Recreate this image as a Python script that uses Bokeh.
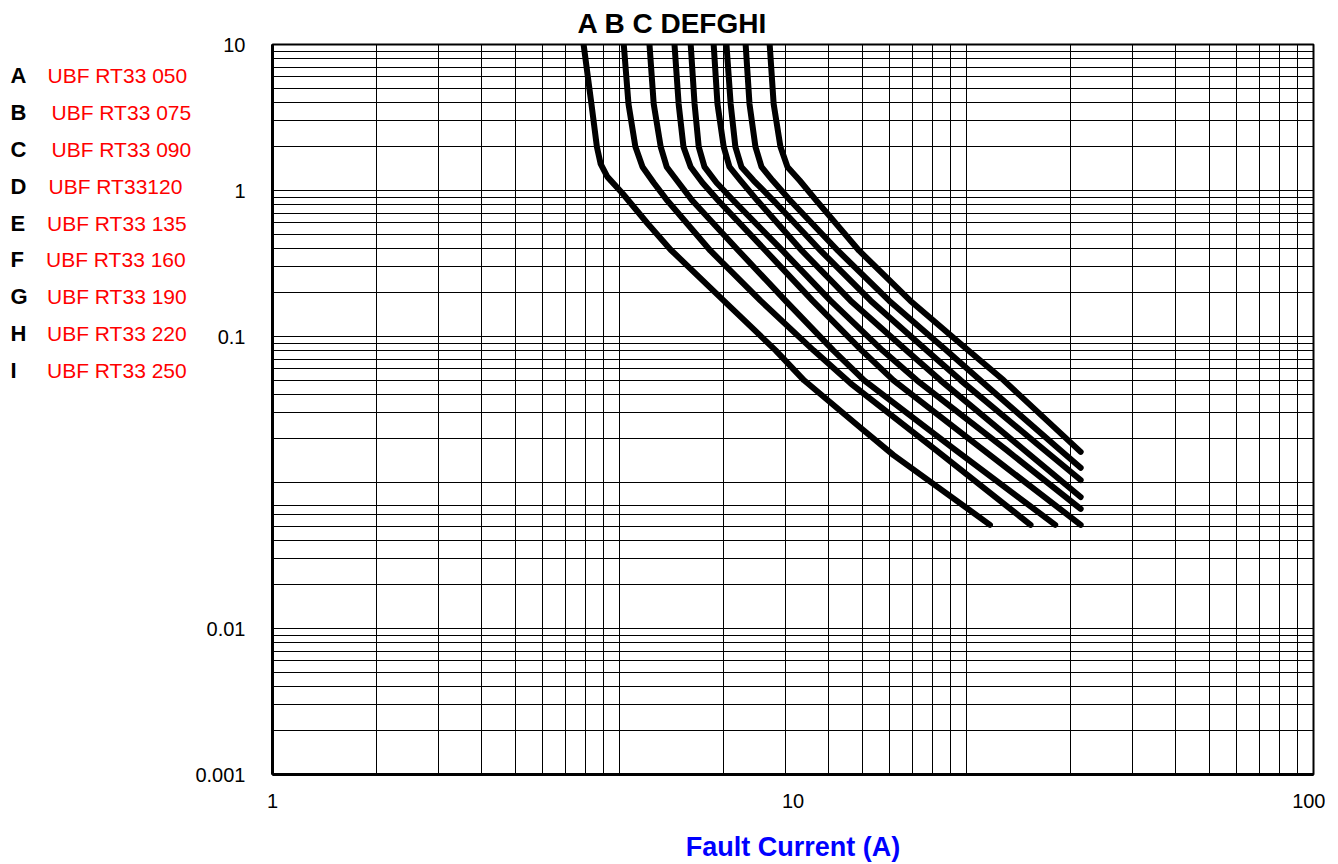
import math
from bokeh.plotting import figure
from bokeh.models import Range1d, FixedTicker
from bokeh.layouts import row
from bokeh.core.properties import value
from bokeh.embed import file_html
from bokeh.resources import INLINE

# ---------------- data ----------------
letters = ["A", "B", "C", "D", "E", "F", "G", "H", "I"]
names = ["UBF RT33 050", "UBF RT33 075", "UBF RT33 090", "UBF RT33120",
         "UBF RT33 135", "UBF RT33 160", "UBF RT33 190", "UBF RT33 220",
         "UBF RT33 250"]
top_letters = "A  B C DEFGHI"

# fault current (A) / trip time (s)
A_current = [3.96, 4.10, 4.20, 4.27, 4.40, 4.71, 5.26, 5.82, 7.36, 9.26, 10.5, 13.5, 15.6, 23.9]
A_time = [10, 3.91, 1.99, 1.52, 1.24, 0.95, 0.592, 0.393, 0.176, 0.0804, 0.0501, 0.0236, 0.0154, 0.00513]

B_current = [4.73, 4.83, 4.98, 5.14, 5.40, 5.74, 6.94, 8.66, 10.95, 12.9, 18.8, 28.6]
B_time = [10, 3.91, 1.99, 1.45, 1.13, 0.85, 0.387, 0.176, 0.0804, 0.0478, 0.0167, 0.00513]

C_current = [5.30, 5.40, 5.57, 5.72, 6.03, 6.41, 7.86, 9.67, 11.95, 13.7, 20.5, 31.9]
C_time = [10, 3.91, 1.99, 1.45, 1.13, 0.85, 0.387, 0.176, 0.0804, 0.0501, 0.0167, 0.00513]

D_current = [5.92, 6.03, 6.16, 6.36, 6.70, 7.19, 8.86, 10.9, 13.55, 15.6, 23.2, 35.7]
D_time = [10, 3.91, 1.99, 1.45, 1.13, 0.85, 0.387, 0.176, 0.0804, 0.0501, 0.0167, 0.00513]

E_current = [6.36, 6.47, 6.59, 6.76, 7.13, 7.69, 9.55, 11.8, 14.85, 17.3, 25.7, 35.7]
E_time = [10, 3.91, 1.99, 1.45, 1.13, 0.85, 0.387, 0.176, 0.0804, 0.0501, 0.0167, 0.00659]

F_current = [7.04, 7.16, 7.36, 7.55, 7.93, 8.55, 10.4, 12.9, 16.5, 19.2, 27.8, 35.7]
F_time = [10, 3.91, 1.99, 1.45, 1.17, 0.85, 0.387, 0.176, 0.0804, 0.0501, 0.0167, 0.00796]

G_current = [7.45, 7.59, 7.75, 7.96, 8.40, 9.18, 11.3, 14.1, 18.05, 21.0, 30.4, 35.7]
G_time = [10, 3.91, 1.99, 1.45, 1.17, 0.85, 0.387, 0.176, 0.0804, 0.0501, 0.0167, 0.0104]

H_current = [8.11, 8.25, 8.47, 8.70, 9.14, 9.89, 12.2, 15.3, 19.7, 22.9, 32.6, 35.7]
H_time = [10, 3.91, 1.99, 1.45, 1.17, 0.85, 0.387, 0.176, 0.0804, 0.0501, 0.0167, 0.0126]

I_current = [9.02, 9.18, 9.46, 9.76, 10.3, 11.1, 13.4, 16.8, 21.7, 25.4, 35.7]
I_time = [10, 3.91, 1.99, 1.45, 1.17, 0.85, 0.387, 0.176, 0.0804, 0.0501, 0.0162]

curves = [(A_current, A_time), (B_current, B_time), (C_current, C_time),
          (D_current, D_time), (E_current, E_time), (F_current, F_time),
          (G_current, G_time), (H_current, H_time), (I_current, I_time)]

x_ticks = [1, 10, 100]
x_tick_labels = ["1", "10", "100"]
y_ticks = [10, 1, 0.1, 0.001, 0.0001]
y_tick_labels = ["10", "1", "0.1", "0.01", "0.001"]

FONT = "Liberation Sans"
H = 864
FRAME_TOP, FRAME_BOTTOM = 43.3, 775.3

# ---------------- legend panel (left) ----------------
LW = 192
leg = figure(width=LW, height=H, x_range=Range1d(0, LW),
             y_range=Range1d(FRAME_BOTTOM, FRAME_TOP),
             output_backend="svg", toolbar_location=None, min_border=0,
             x_axis_location=None, y_axis_location=None)
leg.outline_line_color = None
leg.xgrid.visible = False
leg.ygrid.visible = False
rows_y = [74.7 + 36.9 * i for i in range(len(letters))]
name_x = [47, 51, 51, 48, 46.5, 45.5, 46.5, 46.5, 46.5]
leg.text(x=[10] * len(letters), y=rows_y, text=letters, text_font=value(FONT),
         text_font_style="bold", text_font_size=value("22px"),
         text_baseline="middle", text_align="left", text_color="black")
leg.text(x=name_x, y=rows_y, text=names, text_font=value(FONT),
         text_font_size=value("21px"), text_baseline="middle",
         text_align="left", text_color="#ff0000")

# ---------------- main chart ----------------
p = figure(width=1133, height=H, x_axis_type="log", y_axis_type="log",
           x_range=Range1d(1, 100), y_range=Range1d(1e-4, 10),
           output_backend="svg", toolbar_location=None,
           min_border_left=80, min_border_right=12,
           min_border_top=43, min_border_bottom=89)
p.background_fill_color = "white"
p.border_fill_color = "white"
p.outline_line_color = "black"
p.outline_line_width = 2

p.title.text = top_letters
p.title.align = "left"
p.title.offset = 305
p.title.text_font = FONT
p.title.text_font_style = "bold"
p.title.text_font_size = "28px"
p.title.text_color = "black"
p.title.standoff = 11

# grid: log paper with 3 decades of vertical rulings over the 1..100 axis
# and 5 decades of horizontal rulings
xg = []
for d in range(3):
    for k in range(1, 10):
        xg.append(10 ** (2.0 / 3.0 * math.log10(k * 10 ** d)))
xg.append(100)
yg = []
for d in range(-4, 1):
    for k in range(1, 10):
        if d == -3 and k in (8, 9):
            continue
        yg.append(k * 10.0 ** d)
yg.append(10)

p.xaxis.ticker = FixedTicker(ticks=x_ticks)
p.yaxis.ticker = FixedTicker(ticks=y_ticks)
p.xgrid.ticker = FixedTicker(ticks=xg)
p.ygrid.ticker = FixedTicker(ticks=yg)
p.xgrid.grid_line_color = "black"
p.xgrid.grid_line_width = 1
p.ygrid.grid_line_color = "black"
p.ygrid.grid_line_width = 1.2

p.yaxis.major_label_overrides = dict(zip(y_ticks, y_tick_labels))
p.xaxis.major_label_overrides = dict(zip(x_ticks, x_tick_labels))

for ax in (p.xaxis[0], p.yaxis[0]):
    ax.axis_line_width = 3
    ax.axis_line_color = "black"
    ax.major_tick_out = 0
    ax.major_tick_in = 0
    ax.minor_tick_out = 0
    ax.minor_tick_in = 0
    ax.major_tick_line_color = None
    ax.minor_tick_line_color = None
    ax.major_label_text_font = FONT
    ax.major_label_text_font_size = "20px"
    ax.major_label_text_color = "black"
p.yaxis.major_label_standoff = 27
p.xaxis.major_label_standoff = 19

p.xaxis.axis_label = "Fault Current (A)"
p.xaxis.axis_label_text_font = FONT
p.xaxis.axis_label_text_font_style = "bold"
p.xaxis.axis_label_text_font_size = "27px"
p.xaxis.axis_label_text_color = "#0000ff"
p.xaxis.axis_label_standoff = 21

for cur, t in curves:
    p.line(cur, t, line_color="black", line_width=6, line_cap="round",
           line_join="round")

layout = row(leg, p)
open("out.html", "w").write(file_html(layout, INLINE))
